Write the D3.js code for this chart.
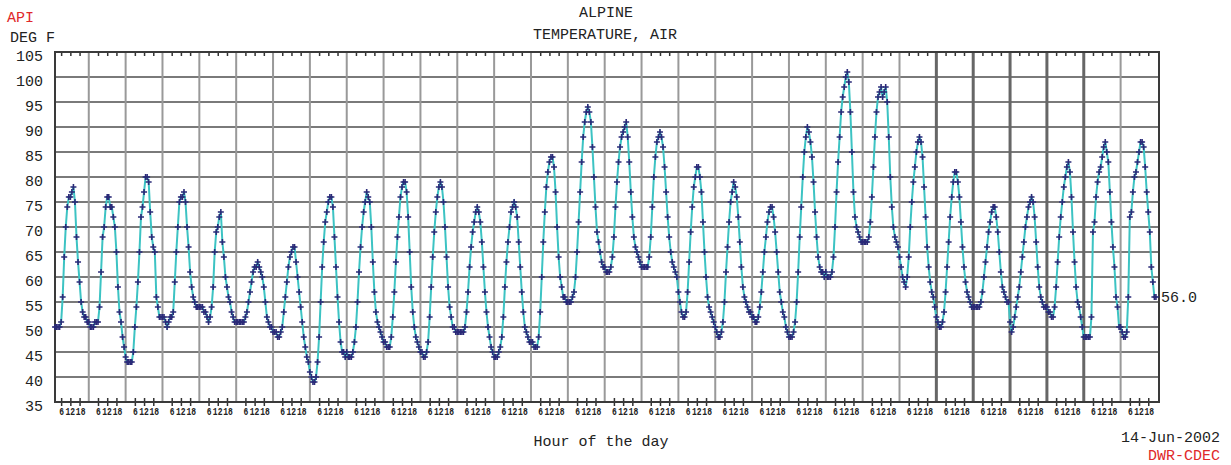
<!DOCTYPE html>
<html>
<head>
<meta charset="utf-8">
<script src="https://cdn.jsdelivr.net/npm/d3@7"></script>
<style>
  body { margin: 0; background: #fff; }
  svg text { font-family: "Liberation Mono", "DejaVu Sans Mono", monospace; fill: #222; }
</style>
</head>
<body>
<svg id="chart" width="1231" height="465"></svg>
<script>
// hourly air temperature (deg F), one row per day, hours 0..23
const dayTemps = [
  [50,50,50,50,50,50,51,56,64,70,74,76,76,77,78,75,68,63,59,55,53,52,52,51],
  [51,50,50,50,51,51,51,54,61,68,70,74,76,76,74,74,72,70,65,58,53,51,48,46],
  [44,43,43,43,43,45,50,54,59,65,72,74,77,80,80,79,73,68,66,65,56,54,52,52],
  [52,52,51,50,51,52,52,53,59,65,70,75,76,76,77,75,70,66,61,58,56,55,54,54],
  [54,54,54,53,53,52,51,52,54,58,65,69,70,72,73,67,64,60,58,56,55,53,52,51],
  [51,51,51,51,51,51,52,53,55,57,59,61,62,62,63,62,61,60,58,55,52,51,50,50],
  [49,49,49,48,48,49,50,53,56,59,62,64,65,66,66,63,60,57,54,51,48,46,44,43],
  [41,40,39,39,40,43,48,55,62,67,71,73,75,76,76,74,68,62,56,51,47,45,45,44],
  [45,44,44,44,45,47,50,55,61,66,70,73,75,77,76,75,70,63,57,53,51,50,49,48],
  [47,47,46,46,46,48,52,57,63,68,72,76,78,79,79,77,72,65,58,53,50,48,47,46],
  [45,45,44,44,45,47,52,58,64,69,73,76,78,79,78,75,70,64,58,54,52,50,50,49],
  [49,49,49,49,49,50,53,57,62,66,69,71,73,74,73,71,67,62,57,53,50,48,46,45],
  [44,44,44,45,46,48,52,58,63,67,70,73,74,75,74,72,67,62,57,53,50,49,48,47],
  [47,47,46,46,46,48,53,60,67,73,78,81,83,84,84,82,77,70,64,60,58,56,56,55],
  [55,55,55,56,57,60,65,71,77,83,88,91,93,94,93,91,86,80,74,69,67,65,63,62],
  [62,61,61,61,62,64,68,74,79,83,86,88,89,90,91,88,83,77,72,68,66,65,64,63],
  [62,62,62,62,62,64,68,74,80,84,87,88,89,88,86,82,77,72,68,65,63,62,61,60],
  [57,55,53,52,52,53,57,63,69,74,78,80,82,82,80,77,71,65,60,56,54,53,52,51],
  [50,49,48,48,49,51,55,61,66,71,75,77,79,78,76,72,67,62,58,56,55,54,53,53],
  [52,52,51,51,52,54,57,61,65,68,71,73,74,74,72,69,65,61,57,55,53,52,50,49],
  [48,48,48,49,51,55,61,68,74,80,85,88,90,89,87,84,79,73,68,64,62,61,61,60],
  [61,60,60,60,61,64,70,77,83,88,93,96,98,100,101,99,93,85,77,72,70,69,68,67],
  [67,67,67,67,68,71,76,82,88,93,96,97,98,96,97,98,95,88,80,74,70,68,67,66],
  [64,62,60,59,58,60,64,70,75,79,82,85,87,88,87,84,78,72,66,62,59,57,56,54],
  [52,51,50,50,51,53,57,62,67,72,76,79,81,81,79,76,71,66,62,59,57,56,55,54],
  [54,54,54,54,54,55,57,60,63,66,69,71,73,74,74,72,69,65,61,58,57,56,55,55],
  [51,49,50,52,54,56,58,61,64,67,70,72,74,75,76,75,72,67,62,58,56,55,54,54],
  [54,53,53,52,52,54,58,63,68,72,75,78,80,82,83,81,76,69,63,58,55,54,52,50],
  [48,48,48,48,48,52,69,71,76,79,81,82,84,86,87,85,83,77,71,66,62,56,54,50],
  [50,49,48,48,49,56,72,73,77,80,81,83,85,87,87,86,82,77,73,69,62,59,56,56]
];
const firstHour = 2;          // record starts at 02:00 of the first day
const lastValueLabel = "56.0";
const yTicks = [35,40,45,50,55,60,65,70,75,80,85,90,95,100,105];
const hourTicks = [6, 12, 18];
const heavyDays = [24, 25, 26, 27, 28];   // day lines drawn darker in the original

const svg = d3.select("#chart");
const plot = { left: 55, right: 1159, top: 52, bottom: 402 };

const nDays = dayTemps.length;
const data = dayTemps.flatMap((row, d) => row.map((v, h) => ({ t: d * 24 + h, v })))
  .filter(d => d.t >= firstHour);

const x = d3.scaleLinear().domain([firstHour, nDays * 24 + 1]).range([plot.left, plot.right]);
const y = d3.scaleLinear().domain([35, 105]).range([plot.bottom, plot.top]);

// grid
const grid = svg.append("g");
grid.selectAll("line.h")
  .data(yTicks.filter(v => v > 35 && v < 105))
  .join("line")
  .attr("x1", plot.left).attr("x2", plot.right)
  .attr("y1", d => y(d)).attr("y2", d => y(d))
  .attr("stroke", "#7a7a7a").attr("stroke-width", 2);

const days = d3.range(1, nDays);
grid.selectAll("line.v")
  .data(days)
  .join("line")
  .attr("x1", d => x(d * 24)).attr("x2", d => x(d * 24))
  .attr("y1", plot.top).attr("y2", plot.bottom)
  .attr("stroke", d => heavyDays.includes(d) ? "#666" : "#999")
  .attr("stroke-width", d => heavyDays.includes(d) ? 3 : 2);

// hour ticks, top and bottom
const tickTimes = d3.range(0, nDays).flatMap(d => hourTicks.map(h => d * 24 + h));
const axisBottom = d3.axisBottom(x).tickValues(tickTimes).tickSize(8).tickSizeOuter(0)
  .tickFormat(t => String(t % 24));
const gb = svg.append("g").attr("transform", `translate(0,${plot.bottom - 4})`).call(axisBottom);
gb.select(".domain").remove();
gb.selectAll(".tick line").attr("stroke", "#333").attr("stroke-width", 1.5);
// tiny labels, stretched vertically so "12" and "18" fit between their ticks
gb.selectAll(".tick text")
  .attr("y", 7).attr("dy", "0.71em")
  .attr("dx", t => (t % 24) === 12 ? -0.6 : (t % 24) === 18 ? 0.6 : 0)
  .attr("transform", "scale(1,1.35)")
  .style("font-size", "8px").style("font-weight", "bold").attr("fill", "#222");

const axisTop = d3.axisTop(x).tickValues(tickTimes).tickSize(-4).tickSizeOuter(0).tickFormat("");
const gt = svg.append("g").attr("transform", `translate(0,${plot.top})`).call(axisTop);
gt.select(".domain").remove();
gt.selectAll(".tick line").attr("stroke", "#333").attr("stroke-width", 1.5);

// frame
svg.append("rect")
  .attr("x", plot.left).attr("y", plot.top)
  .attr("width", plot.right - plot.left).attr("height", plot.bottom - plot.top)
  .attr("fill", "none").attr("stroke", "#3a3a3a").attr("stroke-width", 2);

// y labels
svg.append("g").selectAll("text")
  .data(yTicks)
  .join("text")
  .attr("x", 43).attr("y", d => y(d) + 4)
  .attr("dy", "0.35em")
  .attr("text-anchor", "end")
  .style("font-size", "15px")
  .text(d => d);

// series
const line = d3.line().x(d => x(d.t)).y(d => y(d.v));
svg.append("path")
  .datum(data)
  .attr("d", line)
  .attr("fill", "none")
  .attr("stroke", "#3cc3c3")
  .attr("stroke-width", 2);

svg.append("g").selectAll("path")
  .data(data)
  .join("path")
  .attr("transform", d => `translate(${x(d.t)},${y(d.v)})`)
  .attr("d", "M-3,0H3M0,-3V3")
  .attr("stroke", "#2a2a78")
  .attr("stroke-width", 1.6)
  .attr("fill", "none");

const last = data[data.length - 1];
svg.append("text")
  .attr("x", x(last.t) + 5).attr("y", y(last.v))
  .attr("dy", "0.35em")
  .style("font-size", "15px")
  .text(lastValueLabel);

// titles and labels
svg.append("text").attr("x", 606).attr("y", 12).attr("dy", "0.35em")
  .attr("text-anchor", "middle").style("font-size", "15px").text("ALPINE");
svg.append("text").attr("x", 605).attr("y", 34).attr("dy", "0.35em")
  .attr("text-anchor", "middle").style("font-size", "15px").text("TEMPERATURE, AIR");
svg.append("text").attr("x", 7).attr("y", 17).attr("dy", "0.35em")
  .style("font-size", "15px").style("fill", "#e0282a").text("API");
svg.append("text").attr("x", 10).attr("y", 37).attr("dy", "0.35em")
  .style("font-size", "15px").text("DEG F");
svg.append("text").attr("x", 601).attr("y", 441).attr("dy", "0.35em")
  .attr("text-anchor", "middle").style("font-size", "15px").text("Hour of the day");
svg.append("text").attr("x", 1220).attr("y", 437).attr("dy", "0.35em")
  .attr("text-anchor", "end").style("font-size", "15px").text("14-Jun-2002");
svg.append("text").attr("x", 1220).attr("y", 455).attr("dy", "0.35em")
  .attr("text-anchor", "end").style("font-size", "15px").style("fill", "#e0282a").text("DWR-CDEC");
</script>
</body>
</html>
